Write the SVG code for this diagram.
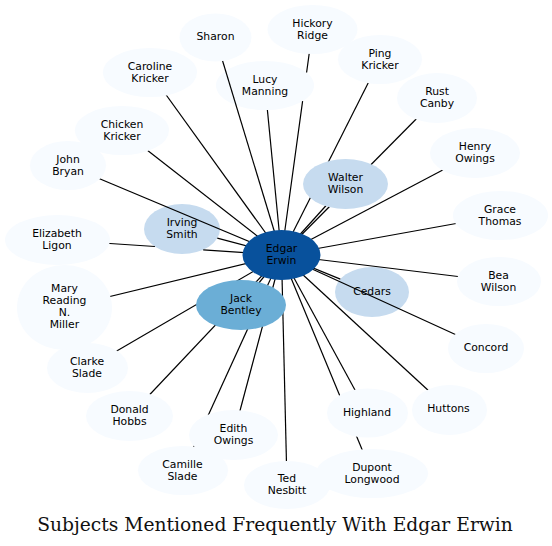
<svg xmlns="http://www.w3.org/2000/svg" width="552" height="546" viewBox="0 0 552 546">
<style>
.n0{fill:#f7fbff;stroke:none}
.n1{fill:#c6dbef;stroke:none}
.n2{fill:#6baed6;stroke:none}
.n3{fill:#08519c;stroke:none}
.lbl{font-family:"DejaVu Sans","Liberation Sans",sans-serif;font-size:10.8px;fill:#000;text-anchor:middle}
.edge{stroke:#000;stroke-width:1.2;fill:none}
.title{font-family:"DejaVu Serif","Liberation Serif",serif;font-size:18.7px;fill:#111;text-anchor:middle}
</style>
<rect width="552" height="546" fill="#fff"/>
<g id="node-irving"><ellipse class="n1" cx="182" cy="229" rx="38" ry="25"/><text class="lbl" x="182" y="226">Irving</text><text class="lbl" x="182" y="238">Smith</text></g>
<g id="node-lucy"><ellipse class="n0" cx="265" cy="85.5" rx="49" ry="24.5"/><text class="lbl" x="265" y="82.5">Lucy</text><text class="lbl" x="265" y="94.5">Manning</text></g>
<g id="node-cedars"><ellipse class="n1" cx="372" cy="292" rx="37" ry="25"/><text class="lbl" x="372" y="294.5">Cedars</text></g>
<g id="connectors" class="edge">
<path d="M215.5,37.5 L281.5,255"/>
<path d="M312.5,29.5 L306.6,72.5 M302.6,101.2 L281.5,255"/>
<path d="M380,59.5 L281.5,255"/>
<path d="M437,98 L281.5,255"/>
<path d="M475,153 L281.5,255"/>
<path d="M500.5,215.5 L281.5,255"/>
<path d="M499,281.5 L281.5,255"/>
<path d="M486,348.5 L281.5,255"/>
<path d="M449.5,410 L281.5,255"/>
<path d="M367.5,413 L281.5,255"/>
<path d="M372,473.5 L281.5,255"/>
<path d="M287,485 L281.5,255"/>
<path d="M233.5,435 L281.5,255"/>
<path d="M183,470.5 L281.5,255"/>
<path d="M129.5,416 L281.5,255"/>
<path d="M87.5,368 L281.5,255"/>
<path d="M64.5,307.5 L281.5,255"/>
<path d="M57.5,240 L154.9,246.5 M203.2,249.8 L281.5,255"/>
<path d="M68,165.5 L281.5,255"/>
<path d="M122,130.5 L281.5,255"/>
<path d="M150,72.5 L281.5,255"/>
<path d="M267.4,110 L281.5,255"/>
<path d="M217.3,238.2 L281.5,255"/>
<path d="M345.5,184 L281.5,255"/>
<path d="M241,305 L281.5,255"/>
<path d="M340.3,279.1 L281.5,255"/>
</g>
<g id="node-sharon"><ellipse class="n0" cx="215.5" cy="37.5" rx="36" ry="24"/><text class="lbl" x="215.5" y="39.5">Sharon</text></g>
<g id="node-hickory"><ellipse class="n0" cx="312.5" cy="29.5" rx="45" ry="24.5"/><text class="lbl" x="312.5" y="26.5">Hickory</text><text class="lbl" x="312.5" y="38.5">Ridge</text></g>
<g id="node-ping"><ellipse class="n0" cx="380" cy="59.5" rx="42" ry="24.5"/><text class="lbl" x="380" y="56.5">Ping</text><text class="lbl" x="380" y="68.5">Kricker</text></g>
<g id="node-rust"><ellipse class="n0" cx="437" cy="98" rx="40" ry="25"/><text class="lbl" x="437" y="94.5">Rust</text><text class="lbl" x="437" y="106.5">Canby</text></g>
<g id="node-henry"><ellipse class="n0" cx="475" cy="153" rx="45" ry="25"/><text class="lbl" x="475" y="150">Henry</text><text class="lbl" x="475" y="162">Owings</text></g>
<g id="node-grace"><ellipse class="n0" cx="500.5" cy="215.5" rx="47.5" ry="24.5"/><text class="lbl" x="500" y="212.5">Grace</text><text class="lbl" x="500" y="224.5">Thomas</text></g>
<g id="node-bea"><ellipse class="n0" cx="499" cy="281.5" rx="42" ry="24.5"/><text class="lbl" x="498.5" y="278.5">Bea</text><text class="lbl" x="498.5" y="290.5">Wilson</text></g>
<g id="node-concord"><ellipse class="n0" cx="486" cy="348.5" rx="38" ry="24.5"/><text class="lbl" x="486" y="350.5">Concord</text></g>
<g id="node-huttons"><ellipse class="n0" cx="449.5" cy="410" rx="37.5" ry="25"/><text class="lbl" x="448.5" y="412">Huttons</text></g>
<g id="node-dupont"><ellipse class="n0" cx="372" cy="473.5" rx="56" ry="24.5"/><text class="lbl" x="372" y="470.5">Dupont</text><text class="lbl" x="372" y="482.5">Longwood</text></g>
<g id="node-highland"><ellipse class="n0" cx="367.5" cy="413" rx="40.5" ry="24.5"/><text class="lbl" x="367" y="415.5">Highland</text></g>
<g id="node-ted"><ellipse class="n0" cx="287" cy="485" rx="43" ry="24"/><text class="lbl" x="287" y="482">Ted</text><text class="lbl" x="287" y="494">Nesbitt</text></g>
<g id="node-camille"><ellipse class="n0" cx="183" cy="470.5" rx="45" ry="24.5"/><text class="lbl" x="182.5" y="467.5">Camille</text><text class="lbl" x="182.5" y="479.5">Slade</text></g>
<g id="node-edith"><ellipse class="n0" cx="233.5" cy="435" rx="44.5" ry="25"/><text class="lbl" x="233.5" y="431.5">Edith</text><text class="lbl" x="233.5" y="443.5">Owings</text></g>
<g id="node-donald"><ellipse class="n0" cx="129.5" cy="416" rx="43.5" ry="25"/><text class="lbl" x="129.5" y="413">Donald</text><text class="lbl" x="129.5" y="425">Hobbs</text></g>
<g id="node-clarke"><ellipse class="n0" cx="87.5" cy="368" rx="40.5" ry="25"/><text class="lbl" x="87" y="365">Clarke</text><text class="lbl" x="87" y="377">Slade</text></g>
<g id="node-mary"><ellipse class="n0" cx="64.5" cy="307.5" rx="47.5" ry="42.5"/><text class="lbl" x="64.5" y="292">Mary</text><text class="lbl" x="64.5" y="304">Reading</text><text class="lbl" x="64.5" y="316">N.</text><text class="lbl" x="64.5" y="328">Miller</text></g>
<g id="node-elizabeth"><ellipse class="n0" cx="57.5" cy="240" rx="52.5" ry="25"/><text class="lbl" x="57" y="236.5">Elizabeth</text><text class="lbl" x="57" y="248.5">Ligon</text></g>
<g id="node-john"><ellipse class="n0" cx="68" cy="165.5" rx="38" ry="24.5"/><text class="lbl" x="68" y="162.5">John</text><text class="lbl" x="68" y="174.5">Bryan</text></g>
<g id="node-chicken"><ellipse class="n0" cx="122" cy="130.5" rx="47" ry="24.5"/><text class="lbl" x="122" y="127.5">Chicken</text><text class="lbl" x="122" y="139.5">Kricker</text></g>
<g id="node-caroline"><ellipse class="n0" cx="150" cy="72.5" rx="47" ry="24.5"/><text class="lbl" x="150" y="69.5">Caroline</text><text class="lbl" x="150" y="81.5">Kricker</text></g>
<g id="node-walter"><ellipse class="n1" cx="345.5" cy="184" rx="42.5" ry="25"/><text class="lbl" x="345.5" y="180.5">Walter</text><text class="lbl" x="345.5" y="192.5">Wilson</text></g>
<g id="node-jack"><ellipse class="n2" cx="241" cy="305" rx="45" ry="25"/><text class="lbl" x="241" y="301.5">Jack</text><text class="lbl" x="241" y="313.5">Bentley</text></g>
<g id="node-edgar"><ellipse class="n3" cx="281.5" cy="255" rx="39" ry="25"/><text class="lbl" x="281.5" y="251.5">Edgar</text><text class="lbl" x="281.5" y="263.5">Erwin</text></g>
<text class="title" x="275" y="530.5">Subjects Mentioned Frequently With Edgar Erwin</text>
</svg>
